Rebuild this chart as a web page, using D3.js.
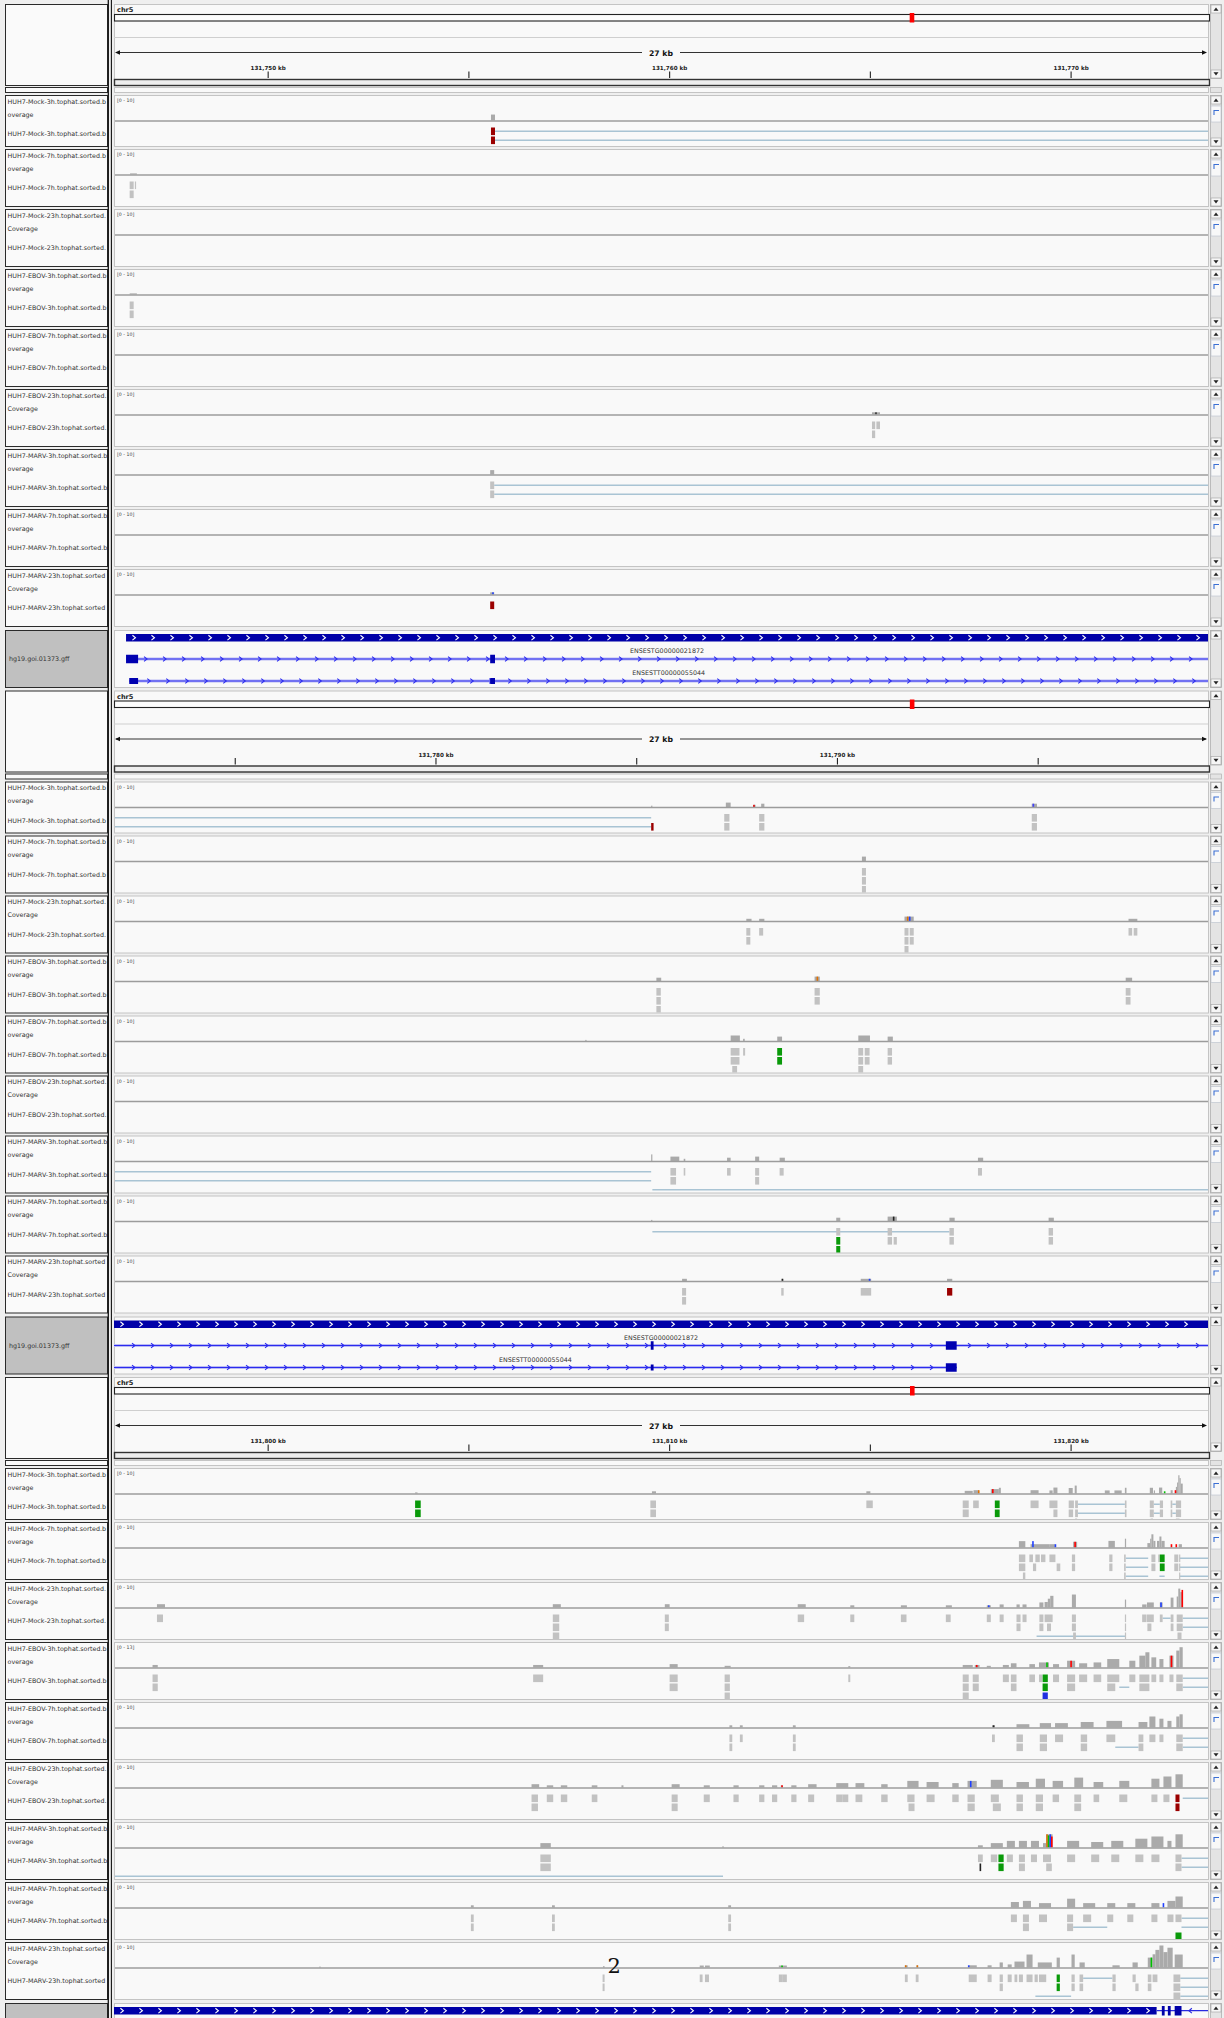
<!DOCTYPE html>
<html>
<head>
<meta charset="utf-8">
<title>IGV chr5 tracks</title>
<script src="https://cdn.jsdelivr.net/npm/d3@7"></script>
<style>
  body { margin: 0; background: #f0f0f0; }
  svg { display: block; font-family: "DejaVu Sans", sans-serif; }
</style>
</head>
<body>
<div id="chart"></div>
<script>
// ---- view ----
const CHR5_KB = 180915;
const PANEL_START = [131746.16, 131771.98, 131796.16];
const PANEL_SPAN_KB = 27.25;
const PANEL_TICKS = [
  [131750, 131755, 131760, 131765, 131770],
  [131775, 131780, 131785, 131790, 131795],
  [131800, 131805, 131810, 131815, 131820]
];
const LABEL_LINE1 = ["HUH7-Mock-3h.tophat.sorted.b", "HUH7-Mock-7h.tophat.sorted.b", "HUH7-Mock-23h.tophat.sorted.",
  "HUH7-EBOV-3h.tophat.sorted.b", "HUH7-EBOV-7h.tophat.sorted.b", "HUH7-EBOV-23h.tophat.sorted.",
  "HUH7-MARV-3h.tophat.sorted.b", "HUH7-MARV-7h.tophat.sorted.b", "HUH7-MARV-23h.tophat.sorted"];
const LABEL_LINE2 = ["overage", "overage", "Coverage", "overage", "overage", "Coverage", "overage", "overage", "Coverage"];
const COV_MAX = [
  [10, 10, 10, 10, 10, 10, 10, 10, 10],
  [10, 10, 10, 10, 10, 10, 10, 10, 10],
  [10, 10, 10, 13, 10, 10, 10, 10, 10]
];
const GFF_NAME = "hg19.goi.01373.gff";
const GENE_LABELS = ["ENSESTG00000021872", "ENSESTT00000055044"];

// ---- panel 1 : [track, startKb, endKb, value] / [track, start, end, row, colour] ----
const cov1 = [
  [0, 131755.55, 131755.65, 2.7], [1, 131746.56, 131746.73, 0.5], [3, 131746.55, 131746.73, 0.5],
  [5, 131765.04, 131765.24, 1], [6, 131755.53, 131755.63, 2], [8, 131755.53, 131755.63, 1]
];
const marks1 = [[5, 131765.14, 1, "#333333"], [8, 131755.6, 1, "#2040ff"]];
const reads1 = [
  [0, 131755.55, 131755.65, 0, "R"], [0, 131755.55, 131755.65, 1, "R"],
  [1, 131746.55, 131746.65, 0], [1, 131746.55, 131746.65, 1], [1, 131746.68, 131746.71, 0],
  [3, 131746.55, 131746.65, 0], [3, 131746.55, 131746.65, 1],
  [5, 131765.04, 131765.12, 0], [5, 131765.15, 131765.24, 0], [5, 131765.04, 131765.12, 1],
  [6, 131755.53, 131755.63, 0], [6, 131755.53, 131755.63, 1],
  [8, 131755.53, 131755.63, 0, "R"]
];
const junc1 = [
  [0, 131755.65, 131773.41, 0], [0, 131755.65, 131773.41, 1],
  [6, 131755.63, 131773.41, 0], [6, 131755.63, 131773.41, 1]
];

// ---- panel 2 ----
const cov2 = [
  [0, 131785.36, 131785.39, 0.6], [0, 131787.22, 131787.34, 2], [0, 131787.92, 131787.96, 1], [0, 131788.1, 131788.18, 1.5], [0, 131794.84, 131794.97, 1.5],
  [1, 131790.61, 131790.71, 2],
  [2, 131787.73, 131787.86, 1], [2, 131788.05, 131788.18, 1], [2, 131791.67, 131791.9, 2], [2, 131797.25, 131797.47, 1],
  [3, 131785.49, 131785.61, 1.5], [3, 131789.43, 131789.56, 2], [3, 131797.18, 131797.34, 1.5],
  [4, 131783.72, 131783.75, 0.5], [4, 131787.34, 131787.57, 2.5], [4, 131787.65, 131787.69, 1], [4, 131788.5, 131788.62, 2], [4, 131790.52, 131790.81, 2.5], [4, 131791.25, 131791.38, 2],
  [6, 131785.36, 131785.39, 3], [6, 131785.84, 131786.06, 2], [6, 131786.17, 131786.21, 1], [6, 131787.25, 131787.34, 1.5], [6, 131787.95, 131788.05, 2], [6, 131788.56, 131788.69, 1.5], [6, 131793.5, 131793.63, 1.5],
  [7, 131785.36, 131785.39, 0.5], [7, 131789.97, 131790.07, 1.5], [7, 131791.25, 131791.48, 2], [7, 131792.79, 131792.92, 1.5], [7, 131795.26, 131795.39, 1.5],
  [8, 131786.13, 131786.25, 1], [8, 131788.61, 131788.65, 1], [8, 131790.58, 131790.84, 1], [8, 131792.73, 131792.86, 1]
];
const marks2 = [
  [0, 131787.92, 1, "#e00000"], [0, 131794.88, 1.5, "#4040ff"], [2, 131791.75, 2, "#e07000"], [2, 131791.8, 2, "#2040ff"],
  [3, 131789.5, 2, "#e07000"], [7, 131791.4, 2, "#222222"], [8, 131788.63, 1, "#222222"], [8, 131790.8, 1, "#2040ff"]
];
const reads2 = [
  [0, 131785.36, 131785.42, 1, "R"], [0, 131787.18, 131787.31, 0], [0, 131787.18, 131787.31, 1], [0, 131788.05, 131788.18, 0], [0, 131788.05, 131788.18, 1], [0, 131794.84, 131794.97, 0], [0, 131794.84, 131794.97, 1],
  [1, 131790.61, 131790.71, 0], [1, 131790.61, 131790.71, 1], [1, 131790.61, 131790.71, 2],
  [2, 131787.73, 131787.83, 0], [2, 131787.73, 131787.83, 1], [2, 131788.05, 131788.15, 0], [2, 131791.67, 131791.77, 0], [2, 131791.67, 131791.77, 1], [2, 131791.67, 131791.77, 2], [2, 131791.8, 131791.9, 0], [2, 131791.8, 131791.9, 1], [2, 131797.25, 131797.34, 0], [2, 131797.38, 131797.47, 0],
  [3, 131785.49, 131785.6, 0], [3, 131785.49, 131785.6, 1], [3, 131785.49, 131785.6, 2], [3, 131789.43, 131789.56, 0], [3, 131789.43, 131789.56, 1], [3, 131797.18, 131797.3, 0], [3, 131797.18, 131797.3, 1],
  [4, 131787.34, 131787.56, 0], [4, 131787.34, 131787.56, 1], [4, 131787.38, 131787.5, 2], [4, 131787.65, 131787.7, 0], [4, 131788.5, 131788.62, 0, "G"], [4, 131788.5, 131788.62, 1, "G"], [4, 131790.52, 131790.64, 0], [4, 131790.52, 131790.64, 1], [4, 131790.52, 131790.64, 2], [4, 131790.68, 131790.8, 0], [4, 131790.68, 131790.8, 1], [4, 131791.25, 131791.36, 0], [4, 131791.25, 131791.36, 1],
  [6, 131785.84, 131785.98, 0], [6, 131785.84, 131785.98, 1], [6, 131786.17, 131786.21, 0], [6, 131787.25, 131787.34, 0], [6, 131787.95, 131788.05, 0], [6, 131787.95, 131788.05, 1], [6, 131788.56, 131788.66, 0], [6, 131793.5, 131793.6, 0],
  [7, 131789.97, 131790.07, 0], [7, 131789.97, 131790.07, 1, "G"], [7, 131789.97, 131790.07, 2, "G"], [7, 131791.25, 131791.36, 0], [7, 131791.25, 131791.36, 1], [7, 131791.4, 131791.48, 1], [7, 131792.79, 131792.9, 0], [7, 131792.79, 131792.9, 1], [7, 131795.26, 131795.37, 0], [7, 131795.26, 131795.37, 1],
  [8, 131786.13, 131786.23, 0], [8, 131786.13, 131786.23, 1], [8, 131788.6, 131788.66, 0], [8, 131790.58, 131790.84, 0], [8, 131792.73, 131792.86, 0, "R"]
];
const junc2 = [
  [0, 131771.98, 131785.36, 0], [0, 131771.98, 131785.36, 1],
  [6, 131771.98, 131785.36, 0], [6, 131771.98, 131785.36, 1], [6, 131785.39, 131799.23, 2],
  [7, 131785.39, 131792.79, 0]
];

// ---- panel 3 ----
const cov3 = [
  [0, 131803.66, 131803.72, 0.5], [0, 131809.56, 131809.66, 1], [0, 131814.9, 131815.0, 1], [0, 131817.35, 131817.55, 1.2], [0, 131817.57, 131817.7, 1.5], [0, 131818.0, 131818.2, 2], [0, 131818.2, 131818.25, 2.6], [0, 131818.99, 131819.19, 1.5], [0, 131819.46, 131819.54, 1.4], [0, 131819.56, 131819.66, 2.7], [0, 131819.94, 131820.04, 2.5], [0, 131820.09, 131820.14, 3.6], [0, 131820.84, 131820.96, 1.4], [0, 131821.08, 131821.26, 1.4], [0, 131821.34, 131821.38, 2.6], [0, 131821.96, 131822.04, 2.6], [0, 131822.06, 131822.09, 1.4], [0, 131822.19, 131822.27, 2.7], [0, 131822.48, 131822.53, 1.5], [0, 131822.61, 131822.64, 3], [0, 131822.64, 131822.67, 5], [0, 131822.67, 131822.7, 8.3], [0, 131822.7, 131822.73, 7], [0, 131822.73, 131822.78, 4.5],
  [1, 131818.7, 131818.86, 2.9], [1, 131818.99, 131819.47, 1.5], [1, 131819.47, 131819.6, 1.5], [1, 131820.05, 131820.15, 2.6], [1, 131820.93, 131821.09, 3], [1, 131821.34, 131821.37, 4], [1, 131821.9, 131821.97, 2], [1, 131821.97, 131822.0, 4], [1, 131822.0, 131822.05, 6], [1, 131822.05, 131822.1, 3], [1, 131822.14, 131822.2, 3], [1, 131822.2, 131822.25, 5], [1, 131822.25, 131822.33, 3], [1, 131822.68, 131822.76, 1.5],
  [2, 131797.23, 131797.43, 1.5], [2, 131807.09, 131807.29, 1.5], [2, 131809.88, 131810.0, 1.5], [2, 131813.19, 131813.39, 1.5], [2, 131814.5, 131814.6, 1], [2, 131815.76, 131815.91, 1], [2, 131816.88, 131817.03, 1], [2, 131817.9, 131818.0, 1], [2, 131818.22, 131818.32, 1.4], [2, 131818.64, 131818.72, 1.4], [2, 131818.79, 131818.89, 1.4], [2, 131819.21, 131819.31, 2.3], [2, 131819.34, 131819.42, 2.5], [2, 131819.42, 131819.48, 4], [2, 131819.48, 131819.56, 5.3], [2, 131820.02, 131820.12, 5.9], [2, 131821.34, 131821.37, 3.6], [2, 131821.77, 131821.88, 1.4], [2, 131821.89, 131822.06, 2.3], [2, 131822.21, 131822.28, 2.3], [2, 131822.48, 131822.55, 4.5], [2, 131822.63, 131822.67, 5], [2, 131822.67, 131822.72, 8.6], [2, 131822.72, 131822.78, 7],
  [3, 131797.12, 131797.25, 1.5], [3, 131806.6, 131806.85, 1.5], [3, 131810.0, 131810.2, 2], [3, 131811.37, 131811.52, 1], [3, 131814.45, 131814.5, 0.8], [3, 131817.3, 131817.55, 1.5], [3, 131817.6, 131817.72, 1.5], [3, 131817.9, 131818.0, 1], [3, 131818.3, 131818.45, 1.5], [3, 131818.5, 131818.64, 2.5], [3, 131818.96, 131819.1, 2], [3, 131819.2, 131819.45, 3], [3, 131819.55, 131819.7, 2], [3, 131819.9, 131820.1, 4], [3, 131820.2, 131820.4, 2.5], [3, 131820.56, 131820.75, 3], [3, 131820.9, 131821.2, 5], [3, 131821.45, 131821.6, 4], [3, 131821.7, 131821.85, 7], [3, 131821.85, 131821.95, 9], [3, 131822.0, 131822.12, 6], [3, 131822.2, 131822.3, 5], [3, 131822.45, 131822.55, 7], [3, 131822.62, 131822.7, 10], [3, 131822.7, 131822.78, 12],
  [4, 131811.49, 131811.56, 1], [4, 131811.75, 131811.82, 1], [4, 131813.07, 131813.14, 1], [4, 131818.03, 131818.1, 1], [4, 131818.64, 131818.96, 1.5], [4, 131819.22, 131819.5, 2], [4, 131819.6, 131819.92, 2], [4, 131820.24, 131820.56, 2.5], [4, 131820.88, 131821.27, 3], [4, 131821.68, 131821.9, 2.5], [4, 131821.95, 131822.1, 5], [4, 131822.2, 131822.3, 4], [4, 131822.4, 131822.5, 3], [4, 131822.62, 131822.7, 5], [4, 131822.7, 131822.78, 6],
  [5, 131806.56, 131806.75, 1.5], [5, 131806.94, 131807.1, 1], [5, 131807.29, 131807.45, 1], [5, 131808.06, 131808.2, 1], [5, 131808.8, 131808.85, 1], [5, 131810.05, 131810.25, 1.5], [5, 131810.85, 131811.0, 1], [5, 131811.59, 131811.72, 1], [5, 131812.23, 131812.36, 1], [5, 131812.55, 131812.68, 1], [5, 131812.77, 131812.82, 1], [5, 131813.03, 131813.16, 1], [5, 131813.45, 131813.66, 1.5], [5, 131814.15, 131814.45, 2], [5, 131814.63, 131814.85, 2], [5, 131815.27, 131815.43, 1.5], [5, 131815.92, 131816.2, 3], [5, 131816.4, 131816.7, 2.5], [5, 131817.04, 131817.2, 2], [5, 131817.42, 131817.65, 3], [5, 131818.0, 131818.3, 3.5], [5, 131818.64, 131818.95, 2.5], [5, 131819.12, 131819.35, 4], [5, 131819.54, 131819.8, 3], [5, 131820.08, 131820.3, 4.5], [5, 131820.56, 131820.8, 2.5], [5, 131821.2, 131821.45, 3], [5, 131822.0, 131822.2, 4], [5, 131822.3, 131822.5, 5], [5, 131822.6, 131822.78, 6],
  [6, 131806.78, 131807.04, 2], [6, 131811.31, 131811.35, 0.5], [6, 131817.68, 131817.8, 1], [6, 131818.0, 131818.3, 2], [6, 131818.4, 131818.6, 3], [6, 131818.7, 131818.9, 3], [6, 131819.0, 131819.2, 3], [6, 131819.3, 131819.38, 2], [6, 131819.38, 131819.54, 6], [6, 131819.9, 131820.2, 3], [6, 131820.5, 131820.8, 2.5], [6, 131821.0, 131821.3, 3], [6, 131821.6, 131821.9, 4], [6, 131822.0, 131822.3, 5], [6, 131822.4, 131822.5, 3], [6, 131822.6, 131822.78, 6],
  [7, 131805.05, 131805.12, 1], [7, 131807.07, 131807.14, 1], [7, 131811.46, 131811.53, 1], [7, 131818.5, 131818.7, 2.5], [7, 131818.8, 131819.0, 3], [7, 131819.2, 131819.5, 2], [7, 131819.9, 131820.1, 4], [7, 131820.3, 131820.6, 2], [7, 131820.9, 131821.1, 2], [7, 131821.4, 131821.6, 2], [7, 131822.0, 131822.2, 2], [7, 131822.4, 131822.6, 3], [7, 131822.6, 131822.78, 5],
  [8, 131801.27, 131801.31, 0.4], [8, 131808.34, 131808.38, 0.6], [8, 131810.75, 131810.85, 0.9], [8, 131810.88, 131811.0, 0.9], [8, 131812.72, 131812.92, 0.9], [8, 131815.86, 131815.93, 1], [8, 131816.15, 131816.19, 1], [8, 131817.45, 131817.65, 1], [8, 131817.92, 131818.02, 1], [8, 131818.22, 131818.3, 2.3], [8, 131818.42, 131818.52, 1.4], [8, 131818.59, 131818.84, 2.7], [8, 131818.89, 131819.04, 5.9], [8, 131819.17, 131819.52, 2.3], [8, 131819.64, 131819.72, 4.5], [8, 131820.01, 131820.09, 5.9], [8, 131820.21, 131820.34, 2.3], [8, 131821.03, 131821.21, 1], [8, 131821.53, 131821.66, 2.3], [8, 131821.91, 131822.03, 4.5], [8, 131822.03, 131822.1, 6], [8, 131822.1, 131822.2, 8], [8, 131822.2, 131822.3, 10], [8, 131822.3, 131822.4, 7], [8, 131822.4, 131822.53, 9], [8, 131822.58, 131822.78, 5.9]
];
const marks3 = [
  [0, 131817.7, 1.5, "#e07000"], [0, 131818.05, 2, "#ff0000"], [0, 131822.33, 1, "#00c000"], [0, 131822.6, 1.5, "#ff0000"],
  [1, 131819.05, 2.9, "#2040ff"], [1, 131819.61, 1.5, "#2040ff"], [1, 131820.1, 2.6, "#ff0000"], [1, 131822.5, 1.5, "#ff0000"], [1, 131822.62, 1.5, "#ff0000"],
  [2, 131817.95, 1, "#2040ff"], [2, 131822.24, 2.3, "#2040ff"], [2, 131822.77, 8, "#ff0000"],
  [3, 131817.65, 1.5, "#ff0000"], [3, 131819.4, 3, "#00c000"], [3, 131820.0, 4, "#ff0000"], [3, 131822.5, 7, "#ff0000"],
  [4, 131818.07, 1, "#222222"],
  [5, 131812.8, 1, "#ff0000"], [5, 131817.5, 3, "#2040ff"],
  [6, 131819.4, 6, "#e07000"], [6, 131819.44, 5.5, "#00c000"], [6, 131819.48, 6, "#2040ff"], [6, 131819.52, 5, "#ff0000"],
  [7, 131822.3, 2, "#2040ff"],
  [8, 131812.8, 0.9, "#00c000"], [8, 131815.88, 1, "#e07000"], [8, 131816.17, 1, "#e07000"], [8, 131817.45, 1, "#2040ff"], [8, 131822.0, 4.5, "#00c000"]
];
const reads3 = [
  [0, 131803.66, 131803.8, 0, "G"], [0, 131803.66, 131803.8, 1, "G"], [0, 131809.52, 131809.66, 0], [0, 131809.52, 131809.66, 1], [0, 131814.9, 131815.06, 0], [0, 131817.3, 131817.45, 0], [0, 131817.3, 131817.45, 1], [0, 131817.56, 131817.7, 0], [0, 131818.1, 131818.22, 0, "G"], [0, 131818.1, 131818.22, 1, "G"], [0, 131818.99, 131819.19, 0], [0, 131819.46, 131819.66, 0], [0, 131819.56, 131819.66, 1], [0, 131819.94, 131820.07, 0], [0, 131819.94, 131820.05, 1], [0, 131820.1, 131820.17, 0], [0, 131820.1, 131820.17, 1], [0, 131820.1, 131820.15, 2], [0, 131821.34, 131821.38, 0], [0, 131821.34, 131821.38, 1], [0, 131821.96, 131822.06, 0], [0, 131821.96, 131822.06, 1], [0, 131821.98, 131822.04, 2], [0, 131822.21, 131822.29, 0], [0, 131822.21, 131822.29, 1], [0, 131822.48, 131822.52, 0], [0, 131822.48, 131822.52, 1], [0, 131822.61, 131822.74, 0], [0, 131822.61, 131822.74, 1], [0, 131822.61, 131822.7, 2],
  [1, 131818.7, 131818.86, 0], [1, 131818.7, 131818.86, 1], [1, 131818.8, 131818.86, 2], [1, 131818.96, 131819.05, 0], [1, 131819.11, 131819.22, 0], [1, 131819.25, 131819.36, 0], [1, 131819.46, 131819.61, 0], [1, 131819.05, 131819.13, 1], [1, 131819.64, 131819.73, 1], [1, 131820.02, 131820.1, 0], [1, 131820.02, 131820.1, 1], [1, 131820.95, 131821.03, 0], [1, 131820.95, 131821.03, 1], [1, 131821.32, 131821.36, 0], [1, 131821.32, 131821.36, 1], [1, 131821.32, 131821.36, 2], [1, 131822.0, 131822.1, 0], [1, 131822.0, 131822.1, 1], [1, 131822.17, 131822.21, 0], [1, 131822.21, 131822.33, 0, "G"], [1, 131822.21, 131822.33, 1, "G"], [1, 131822.57, 131822.67, 0], [1, 131822.57, 131822.67, 1], [1, 131822.69, 131822.71, 0], [1, 131822.69, 131822.71, 1], [1, 131822.69, 131822.71, 2],
  [2, 131797.23, 131797.38, 0], [2, 131807.09, 131807.25, 0], [2, 131807.09, 131807.25, 1], [2, 131807.09, 131807.25, 2], [2, 131809.88, 131809.98, 0], [2, 131809.88, 131809.98, 1], [2, 131813.19, 131813.35, 0], [2, 131814.5, 131814.6, 0], [2, 131815.76, 131815.9, 0], [2, 131816.88, 131817.0, 0], [2, 131817.9, 131818.0, 0], [2, 131818.22, 131818.32, 0], [2, 131818.64, 131818.74, 0], [2, 131818.79, 131818.89, 0], [2, 131818.64, 131818.74, 1], [2, 131819.21, 131819.31, 0], [2, 131819.34, 131819.54, 0], [2, 131819.21, 131819.31, 1], [2, 131819.4, 131819.5, 1], [2, 131820.02, 131820.12, 0], [2, 131820.02, 131820.12, 1], [2, 131820.05, 131820.12, 2], [2, 131821.34, 131821.37, 0], [2, 131821.34, 131821.37, 1], [2, 131821.34, 131821.37, 2], [2, 131821.77, 131821.88, 0], [2, 131821.89, 131822.06, 0], [2, 131821.9, 131822.0, 1], [2, 131822.21, 131822.28, 0], [2, 131822.48, 131822.55, 0], [2, 131822.48, 131822.55, 1], [2, 131822.63, 131822.78, 0], [2, 131822.63, 131822.78, 1], [2, 131822.65, 131822.75, 2],
  [3, 131797.12, 131797.25, 0], [3, 131797.12, 131797.25, 1], [3, 131806.6, 131806.85, 0], [3, 131810.0, 131810.2, 0], [3, 131810.0, 131810.2, 1], [3, 131811.37, 131811.5, 0], [3, 131811.37, 131811.5, 1], [3, 131811.37, 131811.5, 2], [3, 131814.45, 131814.5, 0], [3, 131817.3, 131817.45, 0], [3, 131817.3, 131817.45, 1], [3, 131817.3, 131817.45, 2], [3, 131817.55, 131817.7, 0], [3, 131817.55, 131817.7, 1], [3, 131818.3, 131818.45, 0], [3, 131818.5, 131818.64, 0], [3, 131818.5, 131818.64, 1], [3, 131818.96, 131819.1, 0], [3, 131819.2, 131819.28, 0], [3, 131819.29, 131819.42, 0, "G"], [3, 131819.29, 131819.42, 1, "G"], [3, 131819.29, 131819.42, 2, "B"], [3, 131819.55, 131819.7, 0], [3, 131819.9, 131820.1, 0], [3, 131819.9, 131820.1, 1], [3, 131820.2, 131820.4, 0], [3, 131820.56, 131820.75, 0], [3, 131820.9, 131821.2, 0], [3, 131820.9, 131821.1, 1], [3, 131821.45, 131821.6, 0], [3, 131821.7, 131821.95, 0], [3, 131821.7, 131821.95, 1], [3, 131822.0, 131822.12, 0], [3, 131822.2, 131822.3, 0], [3, 131822.45, 131822.55, 0], [3, 131822.62, 131822.78, 0], [3, 131822.62, 131822.78, 1],
  [4, 131811.49, 131811.56, 0], [4, 131811.49, 131811.56, 1], [4, 131811.75, 131811.82, 0], [4, 131813.07, 131813.14, 0], [4, 131813.07, 131813.14, 1], [4, 131818.03, 131818.1, 0], [4, 131818.64, 131818.8, 0], [4, 131818.64, 131818.8, 1], [4, 131819.22, 131819.4, 0], [4, 131819.22, 131819.4, 1], [4, 131819.6, 131819.8, 0], [4, 131820.24, 131820.4, 0], [4, 131820.24, 131820.4, 1], [4, 131820.88, 131821.1, 0], [4, 131821.68, 131821.8, 0], [4, 131821.68, 131821.8, 1], [4, 131821.95, 131822.1, 0], [4, 131822.2, 131822.3, 0], [4, 131822.62, 131822.78, 0], [4, 131822.62, 131822.78, 1],
  [5, 131806.56, 131806.72, 0], [5, 131806.56, 131806.72, 1], [5, 131806.94, 131807.1, 0], [5, 131807.29, 131807.45, 0], [5, 131808.06, 131808.2, 0], [5, 131810.05, 131810.2, 0], [5, 131810.05, 131810.2, 1], [5, 131810.85, 131811.0, 0], [5, 131811.59, 131811.72, 0], [5, 131812.23, 131812.36, 0], [5, 131812.55, 131812.68, 0], [5, 131813.03, 131813.16, 0], [5, 131813.45, 131813.6, 0], [5, 131814.15, 131814.3, 0], [5, 131814.3, 131814.45, 0], [5, 131814.63, 131814.8, 0], [5, 131815.27, 131815.43, 0], [5, 131815.92, 131816.1, 0], [5, 131815.95, 131816.1, 1], [5, 131816.4, 131816.6, 0], [5, 131817.04, 131817.2, 0], [5, 131817.42, 131817.6, 0], [5, 131817.42, 131817.6, 1], [5, 131818.0, 131818.2, 0], [5, 131818.05, 131818.25, 1], [5, 131818.64, 131818.8, 0], [5, 131818.64, 131818.8, 1], [5, 131819.12, 131819.3, 0], [5, 131819.12, 131819.3, 1], [5, 131819.54, 131819.7, 0], [5, 131820.08, 131820.25, 0], [5, 131820.08, 131820.25, 1], [5, 131820.56, 131820.7, 0], [5, 131821.2, 131821.4, 0], [5, 131822.0, 131822.15, 0], [5, 131822.3, 131822.45, 0], [5, 131822.6, 131822.7, 0, "R"], [5, 131822.6, 131822.7, 1, "R"],
  [6, 131806.78, 131807.04, 0], [6, 131806.78, 131807.04, 1], [6, 131817.68, 131817.8, 0], [6, 131817.72, 131817.76, 1, "K"], [6, 131818.0, 131818.16, 0], [6, 131818.19, 131818.32, 0, "G"], [6, 131818.19, 131818.32, 1, "G"], [6, 131818.4, 131818.55, 0], [6, 131818.7, 131818.85, 0], [6, 131818.7, 131818.85, 1], [6, 131819.0, 131819.15, 0], [6, 131819.3, 131819.5, 0], [6, 131819.38, 131819.52, 1], [6, 131819.9, 131820.1, 0], [6, 131820.5, 131820.7, 0], [6, 131821.0, 131821.2, 0], [6, 131821.6, 131821.8, 0], [6, 131822.0, 131822.2, 0], [6, 131822.6, 131822.75, 0], [6, 131822.6, 131822.75, 1],
  [7, 131805.05, 131805.12, 0], [7, 131805.05, 131805.12, 1], [7, 131807.07, 131807.14, 0], [7, 131807.07, 131807.14, 1], [7, 131811.46, 131811.53, 0], [7, 131811.46, 131811.53, 1], [7, 131818.5, 131818.65, 0], [7, 131818.8, 131818.95, 0], [7, 131818.8, 131818.95, 1], [7, 131819.2, 131819.4, 0], [7, 131819.9, 131820.05, 0], [7, 131819.9, 131820.05, 1], [7, 131820.3, 131820.5, 0], [7, 131820.9, 131821.05, 0], [7, 131821.4, 131821.55, 0], [7, 131822.0, 131822.15, 0], [7, 131822.4, 131822.55, 0], [7, 131822.6, 131822.75, 0], [7, 131822.6, 131822.75, 2, "G"],
  [8, 131808.33, 131808.38, 0], [8, 131808.33, 131808.38, 1], [8, 131810.75, 131810.82, 0], [8, 131810.88, 131810.98, 0], [8, 131812.72, 131812.82, 0], [8, 131812.82, 131812.92, 0], [8, 131815.86, 131815.93, 0], [8, 131816.13, 131816.2, 0], [8, 131817.45, 131817.65, 0], [8, 131817.92, 131818.02, 0], [8, 131818.22, 131818.3, 0], [8, 131818.22, 131818.3, 1], [8, 131818.42, 131818.52, 0], [8, 131818.59, 131818.66, 0], [8, 131818.7, 131818.8, 0], [8, 131818.89, 131819.04, 0], [8, 131819.09, 131819.17, 0], [8, 131819.2, 131819.38, 0], [8, 131819.64, 131819.72, 0, "G"], [8, 131819.64, 131819.72, 1, "G"], [8, 131820.01, 131820.09, 0], [8, 131820.01, 131820.09, 1], [8, 131820.21, 131820.3, 0], [8, 131820.21, 131820.3, 1], [8, 131821.03, 131821.11, 0], [8, 131821.03, 131821.11, 1], [8, 131821.53, 131821.61, 0], [8, 131821.6, 131821.68, 1], [8, 131821.91, 131822.0, 0], [8, 131822.03, 131822.15, 0], [8, 131821.91, 131822.0, 1], [8, 131822.55, 131822.72, 0], [8, 131822.55, 131822.72, 1], [8, 131822.55, 131822.72, 2]
];
const junc3 = [
  [0, 131820.17, 131821.34, 0], [0, 131820.17, 131821.34, 1], [0, 131822.06, 131822.21, 0], [0, 131822.06, 131822.21, 1], [0, 131822.52, 131822.61, 0], [0, 131822.52, 131822.61, 1],
  [1, 131821.36, 131821.92, 0], [1, 131821.36, 131821.92, 1], [1, 131821.36, 131821.92, 2], [1, 131822.2, 131822.33, 2], [1, 131822.71, 131823.41, 0], [1, 131822.71, 131823.41, 1], [1, 131822.71, 131823.41, 2],
  [2, 131819.14, 131821.36, 2], [2, 131822.28, 131822.48, 0], [2, 131822.78, 131823.41, 0], [2, 131822.78, 131823.41, 1],
  [3, 131821.2, 131821.45, 1], [3, 131822.78, 131823.41, 0], [3, 131822.78, 131823.41, 1],
  [4, 131821.1, 131821.68, 1], [4, 131822.78, 131823.41, 0], [4, 131822.78, 131823.41, 1],
  [5, 131822.78, 131823.41, 0],
  [6, 131796.16, 131811.33, 2], [6, 131822.75, 131823.41, 0], [6, 131822.75, 131823.41, 1],
  [7, 131820.05, 131820.9, 1], [7, 131822.75, 131823.41, 0], [7, 131822.75, 131823.41, 1],
  [8, 131819.11, 131820.0, 2], [8, 131820.3, 131821.03, 0], [8, 131822.72, 131823.41, 0], [8, 131822.72, 131823.41, 1], [8, 131822.72, 131823.41, 2]
];

// ---- annotation track: [panel, start, end] / [panel, row, start, end, tall] ----
const GFF_BAR = [[0, 131746.46, 131773.41], [1, 131771.98, 131799.23], [2, 131796.16, 131822.13]];
const GFF_BAR_EXONS = [[2, 131822.26, 131822.33], [2, 131822.41, 131822.48], [2, 131822.58, 131822.75]];
const GFF_BAR_LINES = [[2, 131822.13, 131823.41]];
const GENE_LINES = [[0, 0, 131746.46, 131773.41], [0, 1, 131746.54, 131773.41], [1, 0, 131771.98, 131799.23], [1, 1, 131771.98, 131792.97], [2, 0, 131796.16, 131822.13], [2, 1, 131796.16, 131822.13]];
const GENE_EXONS = [
  [0, 0, 131746.46, 131746.76, 1], [0, 0, 131755.53, 131755.65, 1], [0, 1, 131746.54, 131746.76, 0], [0, 1, 131755.53, 131755.65, 0],
  [1, 0, 131785.35, 131785.42, 1], [1, 0, 131792.7, 131792.97, 1], [1, 1, 131785.35, 131785.42, 0], [1, 1, 131792.7, 131792.97, 1]
];
const STRAY_TEXT = [[2, 8, 131808.45, "2"]];

const COV = [cov1, cov2, cov3], MARKS = [marks1, marks2, marks3], READS = [reads1, reads2, reads3], JUNC = [junc1, junc2, junc3];

// ---- drawing ----
var W = 1224, H = 2018, X0 = 114, X1 = 1208;
var PANEL_Y = [0, 686.5, 1373];
var READ_COLORS = { g: "#c2c2c2", G: "#0a9a0a", R: "#9b0000", B: "#1f2fe0", K: "#222222" };

var svg = d3.select("#chart").append("svg").attr("width", W).attr("height", H);
svg.append("rect").attr("width", W).attr("height", H).attr("fill", "#efefef");
var defs = svg.append("defs");

function trackTop(i) { return i === 0 ? 95 : 149 + 60 * (i - 1); }
function trackBottom(i) { return i === 0 ? 147 : trackTop(i) + 58; }

function scrollbar(g, y0, y1, thumb) {
  var s = g.append("g");
  s.append("rect").attr("x", 1210.5).attr("y", y0 + 0.5).attr("width", 11).attr("height", y1 - y0 - 1)
    .attr("fill", "#e4e4e4").attr("stroke", "#b0b0b0").attr("stroke-width", 0.8);
  s.append("rect").attr("x", 1211).attr("y", y0 + 1).attr("width", 10).attr("height", 8)
    .attr("fill", "#f6f6f6").attr("stroke", "#a0a0a0").attr("stroke-width", 0.6);
  s.append("path").attr("d", "M1213.5," + (y0 + 6.8) + "L1216," + (y0 + 3.6) + "L1218.5," + (y0 + 6.8) + "Z").attr("fill", "#222");
  if (y1 - y0 > 20) {
    s.append("rect").attr("x", 1211).attr("y", y1 - 9).attr("width", 10).attr("height", 8)
      .attr("fill", "#f6f6f6").attr("stroke", "#a0a0a0").attr("stroke-width", 0.6);
    s.append("path").attr("d", "M1213.5," + (y1 - 6.8) + "L1216," + (y1 - 3.6) + "L1218.5," + (y1 - 6.8) + "Z").attr("fill", "#222");
  }
  if (thumb) {
    s.append("rect").attr("x", 1211).attr("y", y0 + 11).attr("width", 10).attr("height", 16)
      .attr("fill", "#f8f8f8").attr("stroke", "#b8c0cc").attr("stroke-width", 0.6);
    s.append("path").attr("d", "M1214," + (y0 + 20) + "V" + (y0 + 15.5) + "H1219")
      .attr("fill", "none").attr("stroke", "#3b6fd4").attr("stroke-width", 1.1);
  }
}

function leftBox(g, y0, y1, fill) {
  g.append("rect").attr("x", 5.5).attr("y", y0 + 0.5).attr("width", 102).attr("height", y1 - y0 - 1)
    .attr("fill", fill || "#fafafa").attr("stroke", "#2a2a2a").attr("stroke-width", 1);
}

function dataBox(g, y0, y1) {
  g.append("rect").attr("x", X0 + 0.5).attr("y", y0 + 0.5).attr("width", X1 - X0).attr("height", y1 - y0 - 1)
    .attr("fill", "#f9f9f9").attr("stroke", "#c4c4c4").attr("stroke-width", 1);
}

function drawHeader(g, x, p) {
  leftBox(g, 4, 86);
  dataBox(g, 4, 86);
  g.append("text").attr("x", 117).attr("y", 12.3).attr("font-size", 6.6).attr("font-weight", "bold")
    .attr("fill", "#222").text("chr5");
  var ideo = d3.scaleLinear().domain([0, CHR5_KB]).range([X0 + 0.5, 1209.5]);
  g.append("rect").attr("x", X0 + 0.5).attr("y", 14.5).attr("width", 1095).attr("height", 6.5)
    .attr("fill", "#fcfcfc").attr("stroke", "#222").attr("stroke-width", 1.1);
  var mid = PANEL_START[p] + PANEL_SPAN_KB / 2;
  g.append("rect").attr("x", ideo(mid) - 2.3).attr("y", 13).attr("width", 4.6).attr("height", 9.5).attr("fill", "#ff0000");
  g.append("line").attr("x1", X0).attr("x2", X1).attr("y1", 37.5).attr("y2", 37.5).attr("stroke", "#cfcfcf");
  // span arrow
  var spanTxt = Math.round(PANEL_SPAN_KB) + " kb";
  g.append("line").attr("x1", 116).attr("x2", 1206).attr("y1", 52.5).attr("y2", 52.5).attr("stroke", "#333").attr("stroke-width", 1.1);
  g.append("path").attr("d", "M115,52.5L120,50.3L120,54.7Z").attr("fill", "#111");
  g.append("path").attr("d", "M1207,52.5L1202,50.3L1202,54.7Z").attr("fill", "#111");
  g.append("rect").attr("x", 642).attr("y", 47).attr("width", 38).attr("height", 11).attr("fill", "#f9f9f9");
  g.append("text").attr("x", 661).attr("y", 55.5).attr("text-anchor", "middle").attr("font-size", 7.7)
    .attr("font-weight", "bold").attr("fill", "#111").text(spanTxt);
  var fmt = d3.format(",");
  PANEL_TICKS[p].forEach(function (t) {
    g.append("line").attr("x1", x(t)).attr("x2", x(t)).attr("y1", 71.5).attr("y2", 78)
      .attr("stroke", "#222").attr("stroke-width", 1.1);
    if (t % 10 === 0) {
      g.append("text").attr("x", x(t)).attr("y", 70).attr("text-anchor", "middle").attr("font-size", 5.6)
        .attr("font-weight", "bold").attr("fill", "#222").text(fmt(t) + " kb");
    }
  });
  g.append("rect").attr("x", X0 + 0.5).attr("y", 79.5).attr("width", 1095).attr("height", 6)
    .attr("fill", "#eeeeee").attr("stroke", "#333").attr("stroke-width", 1.4);
  scrollbar(g, 4, 79, false);
  // thin empty strip under the ruler
  leftBox(g, 87, 93);
  dataBox(g, 87, 93);
  g.append("rect").attr("x", 1210.5).attr("y", 87.5).attr("width", 11).attr("height", 5).attr("fill", "#e4e4e4").attr("stroke", "#b0b0b0").attr("stroke-width", 0.7);
}

function drawTrack(g, x, p, i) {
  var top = trackTop(i), bottom = trackBottom(i), base = top + 25.5;
  leftBox(g, top, bottom);
  var lt = g.append("g").attr("font-size", 6.35).attr("fill", "#333");
  lt.append("text").attr("x", 7.5).attr("y", top + 8.5).text(LABEL_LINE1[i]);
  lt.append("text").attr("x", 7.5).attr("y", top + 21.5).text(LABEL_LINE2[i]);
  lt.append("text").attr("x", 7.5).attr("y", top + 41).text(LABEL_LINE1[i]);
  dataBox(g, top, bottom);
  var max = COV_MAX[p][i];
  g.append("text").attr("x", 117).attr("y", top + 7).attr("font-size", 4.7).attr("fill", "#444").text("[0 - " + max + "]");
  var yc = d3.scaleLinear().domain([0, max]).range([base, base - 22]);

  g.selectAll(null).data(COV[p].filter(function (d) { return d[0] === i; })).enter().append("rect")
    .attr("x", function (d) { return x(d[1]); })
    .attr("width", function (d) { return Math.max(1, x(d[2]) - x(d[1])); })
    .attr("y", function (d) { return yc(d[3]); })
    .attr("height", function (d) { return base - yc(d[3]); })
    .attr("fill", "#aaaaaa");
  g.selectAll(null).data(MARKS[p].filter(function (d) { return d[0] === i; })).enter().append("rect")
    .attr("x", function (d) { return x(d[1]) - 0.8; })
    .attr("width", 1.6)
    .attr("y", function (d) { return yc(d[2]); })
    .attr("height", function (d) { return base - yc(d[2]); })
    .attr("fill", function (d) { return d[3]; });
  g.append("line").attr("x1", X0 + 1).attr("x2", X1).attr("y1", base + 0.5).attr("y2", base + 0.5)
    .attr("stroke", "#9c9c9c").attr("stroke-width", 1.5);

  var cid = "clip-" + p + "-" + i;
  defs.append("clipPath").attr("id", cid).append("rect")
    .attr("x", X0 + 1).attr("y", base + 2).attr("width", X1 - X0 - 1).attr("height", bottom - base - 3);
  var al = g.append("g").attr("clip-path", "url(#" + cid + ")");
  al.selectAll(null).data(JUNC[p].filter(function (d) { return d[0] === i; })).enter().append("line")
    .attr("x1", function (d) { return x(d[1]); })
    .attr("x2", function (d) { return x(d[2]); })
    .attr("y1", function (d) { return base + 10.8 + d[3] * 9; })
    .attr("y2", function (d) { return base + 10.8 + d[3] * 9; })
    .attr("stroke", "#a9c4d4").attr("stroke-width", 1.6);
  al.selectAll(null).data(READS[p].filter(function (d) { return d[0] === i; })).enter().append("rect")
    .attr("x", function (d) { return x(d[1]); })
    .attr("width", function (d) { return Math.max(1.2, x(d[2]) - x(d[1])); })
    .attr("y", function (d) { return base + 7 + d[3] * 9; })
    .attr("height", 7.6)
    .attr("fill", function (d) { return READ_COLORS[d[4] || "g"]; });
  scrollbar(g, top, bottom, true);
}

function chevrons(g, x0, x1, y, step, color, dir) {
  var pts = d3.range(x0, x1 - 3, step);
  g.selectAll(null).data(pts).enter().append("path")
    .attr("d", function (d) { return dir > 0 ? "M" + (d - 1.6) + "," + (y - 2.4) + "L" + (d + 1.4) + "," + y + "L" + (d - 1.6) + "," + (y + 2.4) : "M" + (d + 1.6) + "," + (y - 2.4) + "L" + (d - 1.4) + "," + y + "L" + (d + 1.6) + "," + (y + 2.4); })
    .attr("fill", "none").attr("stroke", color).attr("stroke-width", 1.1);
}

function drawGff(g, x, p) {
  var top = 630, bottom = 688;
  leftBox(g, top, bottom, "#c0c0c0");
  g.append("text").attr("x", 9).attr("y", 661).attr("font-size", 6.35).attr("fill", "#333").text(GFF_NAME);
  dataBox(g, top, bottom);
  var gg = g.append("g");
  GFF_BAR.filter(function (d) { return d[0] === p; }).forEach(function (d) {
    gg.append("rect").attr("x", x(d[1])).attr("y", 634).attr("width", x(d[2]) - x(d[1])).attr("height", 7.5).attr("fill", "#0000a8");
    chevrons(gg, x(d[1]) + 8, x(d[2]), 637.7, 19, "#ffffff", 1);
  });
  GFF_BAR_LINES.filter(function (d) { return d[0] === p; }).forEach(function (d) {
    gg.append("line").attr("x1", x(d[1])).attr("x2", x(d[2])).attr("y1", 637.7).attr("y2", 637.7).attr("stroke", "#2a2ae0").attr("stroke-width", 1.2);
    chevrons(gg, (x(d[1]) + x(d[2])) / 2 + 8, (x(d[1]) + x(d[2])) / 2 + 12, 637.7, 19, "#2a2ae0", -1);
  });
  GFF_BAR_EXONS.filter(function (d) { return d[0] === p; }).forEach(function (d) {
    gg.append("rect").attr("x", x(d[1])).attr("y", 633).attr("width", x(d[2]) - x(d[1])).attr("height", 9.5).attr("fill", "#0000a8");
  });
  var rowY = [659, 681];
  GENE_LINES.filter(function (d) { return d[0] === p; }).forEach(function (d) {
    var y = rowY[d[1]], a = x(d[2]), b = x(d[3]);
    gg.append("line").attr("x1", a).attr("x2", b).attr("y1", y).attr("y2", y).attr("stroke", "#b9b9f4").attr("stroke-width", 3);
    gg.append("line").attr("x1", a).attr("x2", b).attr("y1", y).attr("y2", y).attr("stroke", "#2b2bef").attr("stroke-width", 1.2);
    chevrons(gg, a + 19.6, b, y, 19, "#2b2bef", 1);
    // labels only where the row is inside the picture
    if (PANEL_Y[p] + y - 6 < H - 2) {
      gg.append("text").attr("x", (a + b) / 2).attr("y", y - 6).attr("text-anchor", "middle")
        .attr("font-size", 6.35).attr("fill", "#333").text(GENE_LABELS[d[1]]);
    }
  });
  GENE_EXONS.filter(function (d) { return d[0] === p; }).forEach(function (d) {
    var y = rowY[d[1]], h = d[4] ? 8.5 : 6;
    gg.append("rect").attr("x", x(d[2])).attr("y", y - h / 2).attr("width", Math.max(2, x(d[3]) - x(d[2])))
      .attr("height", h).attr("fill", "#0000b0");
  });
  scrollbar(g, top, bottom, false);
}

PANEL_Y.forEach(function (py, p) {
  var g = svg.append("g").attr("transform", "translate(0," + py + ")");
  var x = d3.scaleLinear().domain([PANEL_START[p], PANEL_START[p] + PANEL_SPAN_KB]).range([X0, X1]);
  drawHeader(g, x, p);
  LABEL_LINE1.forEach(function (t, i) { drawTrack(g, x, p, i); });
  drawGff(g, x, p);
  STRAY_TEXT.filter(function (d) { return d[0] === p; }).forEach(function (d) {
    g.append("text").attr("x", x(d[2])).attr("y", trackTop(d[1]) + 31).attr("font-family", "DejaVu Serif")
      .attr("font-size", 21).attr("fill", "#111").text(d[3]);
  });
});

// divider between name column and data column
svg.append("line").attr("x1", 108.3).attr("x2", 108.3).attr("y1", 0).attr("y2", H).attr("stroke", "#111").attr("stroke-width", 1.3);
svg.append("line").attr("x1", 111.4).attr("x2", 111.4).attr("y1", 0).attr("y2", H).attr("stroke", "#111").attr("stroke-width", 1.1);
</script>
</body>
</html>
